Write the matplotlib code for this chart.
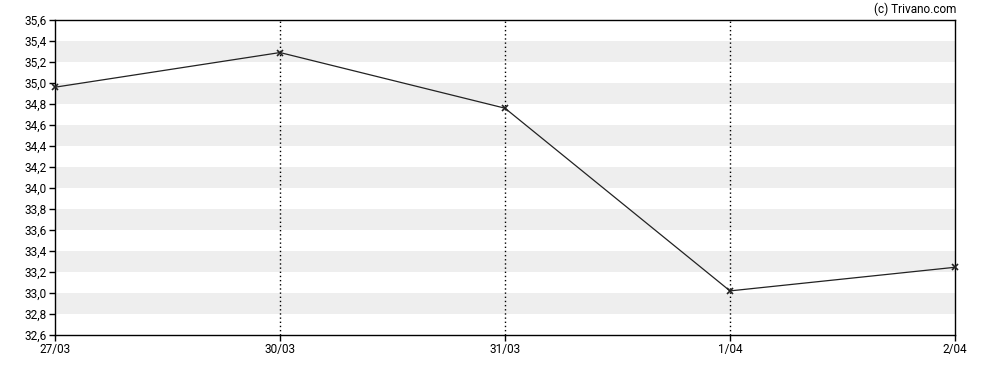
import matplotlib
matplotlib.use("Agg")
import matplotlib.pyplot as plt
import numpy as np

plt.rcParams['font.family'] = ['Roboto', 'DejaVu Sans']

dates = ["27/03", "30/03", "31/03", "1/04", "2/04"]
prices = [34.96, 35.29, 34.76, 33.02, 33.245]
y_ticks = [32.6, 32.8, 33.0, 33.2, 33.4, 33.6, 33.8, 34.0, 34.2, 34.4, 34.6, 34.8, 35.0, 35.2, 35.4, 35.6]
y_min, y_max = 32.6, 35.6

W, H = 988, 370
fig = plt.figure(figsize=(W/100, H/100), dpi=100)
ax = fig.add_axes([55/W, (H-335)/H, 900/W, 315/H])

x = np.arange(len(dates))
ax.set_xlim(0, len(dates)-1)
ax.set_ylim(y_min, y_max)

# stripes
for i in range(len(y_ticks)-1):
    if i % 2 == 1:
        ax.axhspan(y_ticks[i], y_ticks[i+1], color='#eeeeee', lw=0, zorder=0)

for xi in x[1:-1]:
    ax.axvline(xi, color='black', lw=1.0, ls=(0, (1, 2)), zorder=1)

ax.plot(x, prices, color='#222222', lw=0.9, marker='x', ms=4, mew=1.2, mec='#222222', zorder=3, clip_on=False)

ax.set_xticks(x)
ax.set_xticklabels(dates)
ax.set_yticks(y_ticks)
ax.set_yticklabels([f"{v:.1f}".replace('.', ',') for v in y_ticks])
ax.tick_params(axis='both', labelsize=8.5, colors='black', length=4, width=1, direction='out', pad=2)
for s in ax.spines.values():
    s.set_linewidth(1)

fig.text(956/W, 1 - 9/H, "(c) Trivano.com", ha='right', va='center', fontsize=8.5)

fig.savefig("out.png", dpi=100)
